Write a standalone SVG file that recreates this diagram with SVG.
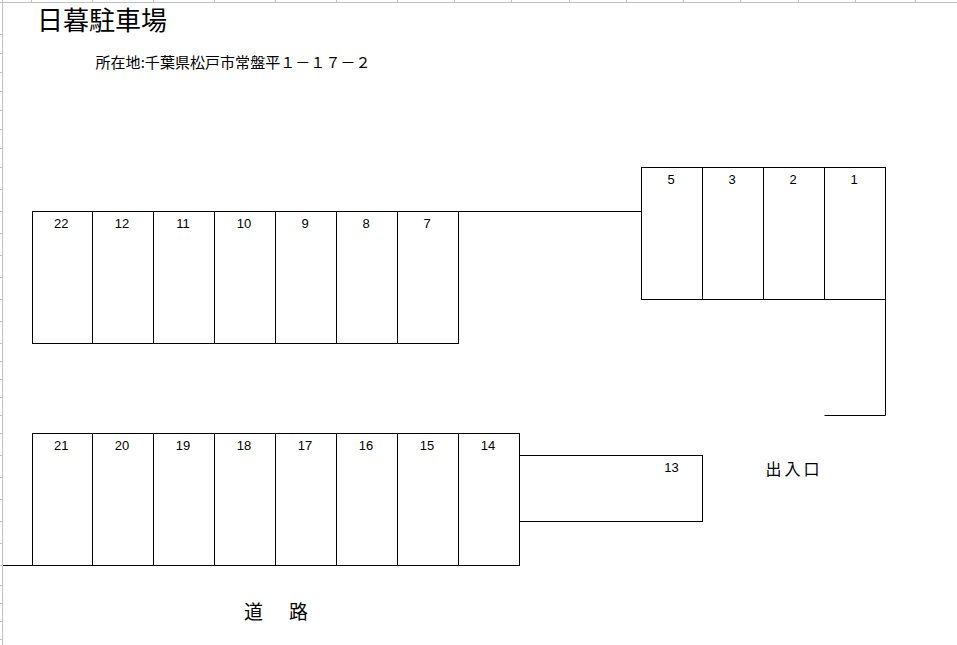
<svg xmlns="http://www.w3.org/2000/svg" width="957" height="645" viewBox="0 0 957 645">
<style>
.grid{stroke:#c0c0c0;stroke-width:1;fill:none}
.stall{fill:none;stroke:#000;stroke-width:1}
.ln{stroke:#000;stroke-width:1;fill:none}
.num{font-family:"Liberation Sans",Arial,sans-serif;font-size:13px;fill:#000;text-anchor:middle}
.jp{font-family:"Noto Sans CJK JP","Noto Sans",sans-serif;fill:#000}
</style>
<rect x="0" y="0" width="957" height="645" fill="#fff"/>
<g id="sheet-grid" class="grid">
<path d="M0 2.5H957M2.5 0V645"/>
<path d="M31.5 0V2M92.5 0V2M153.5 0V2M214.5 0V2M275.5 0V2M336.5 0V2M397.5 0V2M454.5 0V2M511.5 0V2M569.5 0V2M626.5 0V2M683.5 0V2M740.5 0V2M798.5 0V2M855.5 0V2M915.5 0V2"/>
<path d="M0 34.5H2M0 53.5H2M0 72.5H2M0 91.5H2M0 110.5H2M0 129.5H2M0 148.5H2M0 167.5H2M0 189.5H2M0 211.5H2M0 233.5H2M0 255.5H2M0 277.5H2M0 299.5H2M0 321.5H2M0 343.5H2M0 361.5H2M0 379.5H2M0 397.5H2M0 415.5H2M0 433.5H2M0 455.5H2M0 477.5H2M0 499.5H2M0 521.5H2M0 543.5H2M0 565.5H2M0 585.5H2M0 603.5H2M0 621.5H2M0 639.5H2"/>
</g>
<g id="title">
<text class="jp" x="37" y="29.5" font-size="26">日暮駐車場</text>
<text class="jp" x="95.5" y="67.5" font-size="15" textLength="275" lengthAdjust="spacing">所在地:千葉県松戸市常盤平１－１７－２</text>
</g>
<g id="connectors">
<path class="ln" d="M458.5 211.5H641.5"/>
<path class="ln" d="M885.5 299.5V415.5H824.5"/>
<path class="ln" d="M3 565.5H32.5"/>
</g>
<g id="stall-22"><rect class="stall" x="32.5" y="211.5" width="60" height="132"/><text class="num" x="61.3" y="227.7">22</text></g>
<g id="stall-12"><rect class="stall" x="92.5" y="211.5" width="61" height="132"/><text class="num" x="122" y="227.7">12</text></g>
<g id="stall-11"><rect class="stall" x="153.5" y="211.5" width="61" height="132"/><text class="num" x="183" y="227.7">11</text></g>
<g id="stall-10"><rect class="stall" x="214.5" y="211.5" width="61" height="132"/><text class="num" x="244" y="227.7">10</text></g>
<g id="stall-9"><rect class="stall" x="275.5" y="211.5" width="61" height="132"/><text class="num" x="305" y="227.7">9</text></g>
<g id="stall-8"><rect class="stall" x="336.5" y="211.5" width="61" height="132"/><text class="num" x="366" y="227.7">8</text></g>
<g id="stall-7"><rect class="stall" x="397.5" y="211.5" width="61" height="132"/><text class="num" x="427" y="227.7">7</text></g>
<g id="stall-5"><rect class="stall" x="641.5" y="167.5" width="61" height="132"/><text class="num" x="671" y="183.7">5</text></g>
<g id="stall-3"><rect class="stall" x="702.5" y="167.5" width="61" height="132"/><text class="num" x="732" y="183.7">3</text></g>
<g id="stall-2"><rect class="stall" x="763.5" y="167.5" width="61" height="132"/><text class="num" x="793" y="183.7">2</text></g>
<g id="stall-1"><rect class="stall" x="824.5" y="167.5" width="61" height="132"/><text class="num" x="854" y="183.7">1</text></g>
<g id="stall-21"><rect class="stall" x="32.5" y="433.5" width="60" height="132"/><text class="num" x="61.3" y="449.7">21</text></g>
<g id="stall-20"><rect class="stall" x="92.5" y="433.5" width="61" height="132"/><text class="num" x="122" y="449.7">20</text></g>
<g id="stall-19"><rect class="stall" x="153.5" y="433.5" width="61" height="132"/><text class="num" x="183" y="449.7">19</text></g>
<g id="stall-18"><rect class="stall" x="214.5" y="433.5" width="61" height="132"/><text class="num" x="244" y="449.7">18</text></g>
<g id="stall-17"><rect class="stall" x="275.5" y="433.5" width="61" height="132"/><text class="num" x="305" y="449.7">17</text></g>
<g id="stall-16"><rect class="stall" x="336.5" y="433.5" width="61" height="132"/><text class="num" x="366" y="449.7">16</text></g>
<g id="stall-15"><rect class="stall" x="397.5" y="433.5" width="61" height="132"/><text class="num" x="427" y="449.7">15</text></g>
<g id="stall-14"><rect class="stall" x="458.5" y="433.5" width="61" height="132"/><text class="num" x="488" y="449.7">14</text></g>
<g id="stall-13"><rect class="stall" x="519.5" y="455.5" width="183" height="66"/><text class="num" x="671.5" y="471.7">13</text></g>
<g id="entrance"><text class="jp" x="765.5" y="475" font-size="16" letter-spacing="3">出入口</text></g>
<g id="road"><text class="jp" x="244" y="619" font-size="19" letter-spacing="3.5">道　路</text></g>
</svg>
